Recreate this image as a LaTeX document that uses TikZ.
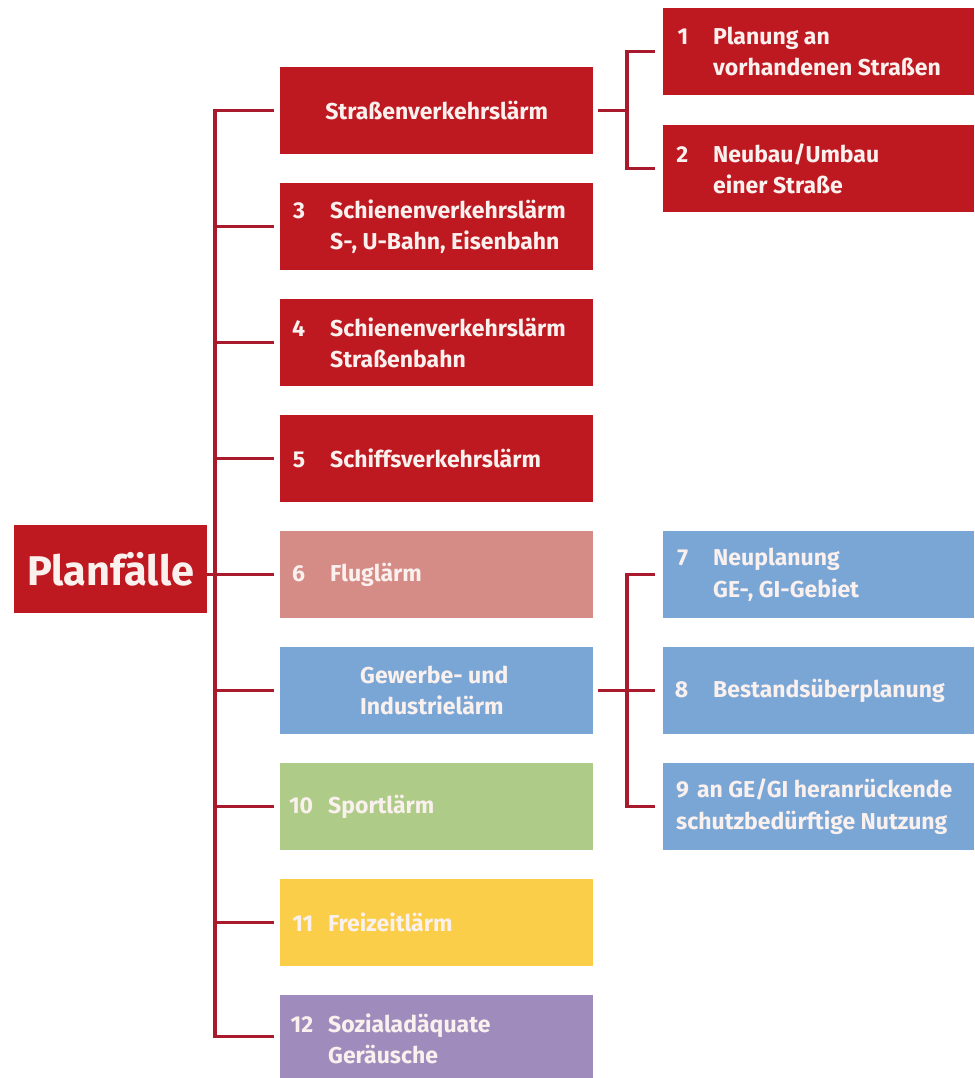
\documentclass[tikz,border=0pt]{standalone}
\usepackage{fontspec}
\setmainfont{Fira Sans}
\definecolor{rotbox}{RGB}{190,24,32}
\definecolor{linie}{RGB}{168,26,44}
\definecolor{flug}{RGB}{214,140,134}
\definecolor{gewerbe}{RGB}{122,166,214}
\definecolor{sport}{RGB}{174,204,136}
\definecolor{freizeit}{RGB}{250,206,72}
\definecolor{sozial}{RGB}{160,140,188}
\definecolor{schrift}{RGB}{250,240,238}
% number set to the left of the text column
\newcommand\planNr[2][25pt]{\llap{#2\hspace{#1}}}
\begin{document}
\begin{tikzpicture}[x=1pt,y=-1pt,
  box/.style={rectangle, inner sep=0, minimum height=87pt, anchor=north west},
  midbox/.style={box, minimum width=313pt},
  rightbox/.style={box, minimum width=311pt},
  lbl/.style={text=schrift, font=\bfseries\fontsize{23}{31.5}\selectfont,
    align=left, inner sep=0, anchor=west},
  conn/.style={draw=linie, line width=3.5pt},
]
\useasboundingbox (0,0) rectangle (974,1078);

% root
\node[box, minimum width=193pt, minimum height=88pt, fill=rotbox, text=schrift,
  font=\bfseries\fontsize{41.5}{41.5}\selectfont] (pf) at (14,525) {Planfälle};

% middle column
\node[midbox, fill=rotbox]   (b1)  at (280,67)  {};
\node[midbox, fill=rotbox]   (b3)  at (280,183) {};
\node[midbox, fill=rotbox]   (b4)  at (280,299) {};
\node[midbox, fill=rotbox]   (b5)  at (280,415) {};
\node[midbox, fill=flug]     (b6)  at (280,531) {};
\node[midbox, fill=gewerbe]  (b7)  at (280,647) {};
\node[midbox, fill=sport]    (b10) at (280,763) {};
\node[midbox, fill=freizeit] (b11) at (280,879) {};
\node[midbox, fill=sozial, minimum height=83pt] (b12) at (280,995) {};

\node[lbl, anchor=center] (t1) at (b1.center) {Straßenverkehrslärm};
\node[lbl] (t3)  at ([xshift=50pt]b3.west)  {\planNr{3}Schienenverkehrslärm\\S-, U-Bahn, Eisenbahn};
\node[lbl] (t4)  at ([xshift=50pt]b4.west)  {\planNr{4}Schienenverkehrslärm\\Straßenbahn};
\node[lbl] (t5)  at ([xshift=50pt]b5.west)  {\planNr{5}Schiffsverkehrslärm};
\node[lbl] (t6)  at ([xshift=50pt]b6.west)  {\planNr{6}Fluglärm};
\node[lbl] (t7)  at ([xshift=80pt]b7.west)  {Gewerbe- und\\Industrielärm};
\node[lbl] (t10) at ([xshift=48pt]b10.west) {\planNr[15pt]{10}Sportlärm};
\node[lbl] (t11) at ([xshift=48pt]b11.west) {\planNr[15pt]{11}Freizeitlärm};
\node[lbl] (t12) at ([xshift=48pt,yshift=-2pt]b12.west) {\planNr[15pt]{12}Sozialadäquate\\Geräusche};

% right column
\node[rightbox, fill=rotbox]  (r1) at (663,8)   {};
\node[rightbox, fill=rotbox]  (r2) at (663,125) {};
\node[rightbox, fill=gewerbe] (r7) at (663,531) {};
\node[rightbox, fill=gewerbe] (r8) at (663,647) {};
\node[rightbox, fill=gewerbe] (r9) at (663,763) {};

\node[lbl] (s1) at ([xshift=50pt]r1.west) {\planNr{1}Planung an\\vorhandenen Straßen};
\node[lbl] (s2) at ([xshift=50pt]r2.west) {\planNr{2}Neubau/Umbau\\einer Straße};
\node[lbl] (s7) at ([xshift=50pt]r7.west) {\planNr{7}Neuplanung\\GE-, GI-Gebiet};
\node[lbl] (s8) at ([xshift=50pt]r8.west) {\planNr{8}Bestandsüberplanung};
\node[lbl] (s9) at ([xshift=13pt]r9.west) {9\hspace{8pt}an GE/GI heranrückende\\schutzbedürftige Nutzung};

% connectors
\coordinate (trunk) at (215,0);
\coordinate (sx) at (627,0);

\draw[conn] ([xshift=-6pt]b1.west) -- (b1.west -| trunk) -- (b12.west -| trunk)
  -- ([xshift=-6pt]b12.west);
\foreach \b in {b3,b4,b5,b6,b7,b10,b11}
  \draw[conn] (\b.west -| trunk) -- ([xshift=-6pt]\b.west);
\draw[conn] (b6.west -| pf.east) -- (b6.west -| trunk);

\draw[conn] ([xshift=5pt]b1.east) -- (b1.east -| sx);
\draw[conn] ([xshift=-8pt]r1.west) -- (r1.west -| sx) -- (r2.west -| sx)
  -- ([xshift=-8pt]r2.west);

\draw[conn] ([xshift=5pt]b7.east) -- ([xshift=-8pt]r8.west);
\draw[conn] ([xshift=-8pt]r7.west) -- (r7.west -| sx) -- (r9.west -| sx)
  -- ([xshift=-8pt]r9.west);
\end{tikzpicture}
\end{document}
